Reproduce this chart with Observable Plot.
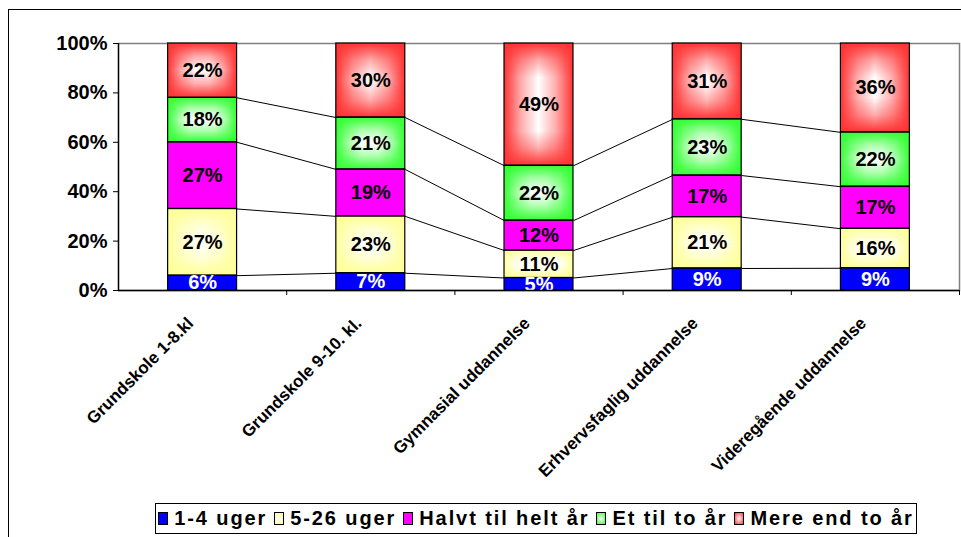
<!DOCTYPE html>
<html>
<head>
<meta charset="utf-8">
<script src="https://cdn.jsdelivr.net/npm/d3@7"></script>
<script src="https://cdn.jsdelivr.net/npm/@observablehq/plot@0.6"></script>
<style>
  html, body { margin: 0; padding: 0; background: #fff; overflow: hidden; width: 961px; height: 537px; }
  body { position: relative; font-family: "Liberation Sans", Arial, sans-serif; }
  #frame { position: absolute; left: 8px; top: 9px; width: 1200px; height: 800px; border: 1px solid #000; box-sizing: border-box; }
  #chart { position: absolute; left: 0; top: 0; }
  #defs { position: absolute; width: 0; height: 0; }
  #legend { position: absolute; left: 155px; top: 503px; width: 762px; height: 31px; border: 1px solid #000; box-sizing: border-box;
    display: flex; align-items: center; justify-content: center; background: #fff;
    font-weight: bold; font-size: 20px; letter-spacing: 1.9px; color: #000; white-space: nowrap; }
  .item { display: flex; align-items: center; margin: 0 7px 0 0; }
  .item:last-child { margin-right: 0; }
  .sw { width: 8px; height: 11px; border: 1px solid #000; margin-right: 6px; }
</style>
</head>
<body>
<div id="frame"></div>
<svg id="defs"><defs></defs></svg>
<div id="chart"></div>
<div id="legend"></div>
<script>
// ---- data ----
const categories = ["Grundskole 1-8.kl", "Grundskole 9-10. kl.", "Gymnasial uddannelse", "Erhvervsfaglig uddannelse", "Videregående uddannelse"];
const seriesNames = ["1-4 uger", "5-26 uger", "Halvt til helt år", "Et til to år", "Mere end to år"];
const uger1_4 = [6, 7, 5, 9, 9];
const uger5_26 = [27, 23, 11, 21, 16];
const halvtTilHelt = [27, 19, 12, 17, 17];
const etTilTo = [18, 21, 22, 23, 22];
const mereEndTo = [22, 30, 49, 31, 36];
const yTicks = [0, 20, 40, 60, 80, 100];

// ---- styles ----
const seriesValues = [uger1_4, uger5_26, halvtTilHelt, etTilTo, mereEndTo];
const seriesColor = ["#0000FF", "#FFFF99", "#FF00FF", "#33FF33", "#FF3333"];
const seriesGradient = [false, true, false, true, true];
const cssFill = ["#0000FF", "radial-gradient(#fff, #FFFF99)", "#FF00FF", "radial-gradient(#fff, #33FF33)", "radial-gradient(#fff, #FF3333)"];
const barWidth = 0.41;
const W = 961, H = 495, mL = 118, mR = 2, mT = 43, mB = 205;
const pxW = (W - mL - mR) / categories.length * barWidth;
const pxPerPct = (H - mT - mB) / 100;

// ---- build stacked rows (100% stacked) ----
const rows = [];
const cum = categories.map(() => []);
categories.forEach((cat, i) => {
  const total = d3.sum(seriesValues, s => s[i]);
  let acc = 0;
  seriesValues.forEach((s, k) => {
    const y1 = acc / total * 100;
    acc += s[i];
    const y2 = acc / total * 100;
    cum[i][k] = y2;
    rows.push({i, cat, series: seriesNames[k], k, value: s[i], y1, y2,
      x1: i + 0.5 - barWidth / 2, x2: i + 0.5 + barWidth / 2, xc: i + 0.5,
      grad: seriesGradient[k], id: `g${i}_${k}`});
  });
});
const links = [];
for (let k = 0; k < seriesNames.length - 1; k++) {
  for (let i = 0; i < categories.length - 1; i++) {
    links.push({x1: i + 0.5 + barWidth / 2, x2: i + 1.5 - barWidth / 2, y1: cum[i][k], y2: cum[i + 1][k]});
  }
}
const boundaries = categories.map((c, i) => i + 1);
const centers = categories.map((c, i) => i + 0.5);

// ---- box ("from center") gradients: horizontal base + vertical overlay ----
const defs = d3.select("#defs defs");
rows.filter(d => d.grad).forEach(d => {
  const col = seriesColor[d.k];
  const mid = d3.interpolateRgb(col, "#fff")(0.6);
  const w = pxW, h = (d.y2 - d.y1) * pxPerPct;
  const s = Math.min(w, h) / 2;
  const fx = s / w, fy = s / h;
  const hg = defs.append("linearGradient").attr("id", "h" + d.id).attr("x1", 0).attr("x2", 1).attr("y1", 0).attr("y2", 0);
  [[0, col], [fx * 0.5, mid], [fx, "#fff"], [1 - fx, "#fff"], [1 - fx * 0.5, mid], [1, col]].forEach(([o, c]) =>
    hg.append("stop").attr("offset", o).attr("stop-color", c));
  const vg = defs.append("linearGradient").attr("id", "v" + d.id).attr("x1", 0).attr("x2", 0).attr("y1", 0).attr("y2", 1);
  [[0, 1], [fy * 0.5, 0.4], [fy, 0], [1 - fy, 0], [1 - fy * 0.5, 0.4], [1, 1]].forEach(([o, a]) =>
    vg.append("stop").attr("offset", o).attr("stop-color", col).attr("stop-opacity", a));
});

const plot = Plot.plot({
  width: W,
  height: H,
  marginLeft: mL,
  marginRight: mR,
  marginTop: mT,
  marginBottom: mB,
  style: {fontFamily: "'Liberation Sans', Arial, sans-serif", background: "transparent", overflow: "visible"},
  x: {domain: [0, categories.length], axis: null},
  y: {domain: [0, 100], axis: null},
  marks: [
    Plot.frame({stroke: "#808080", strokeWidth: 1.5}),
    Plot.link(links, {x1: "x1", x2: "x2", y1: "y1", y2: "y2", stroke: "#000", strokeWidth: 1}),
    Plot.rect(rows, {x1: "x1", x2: "x2", y1: "y1", y2: "y2",
      fill: {value: d => d.grad ? `url(#h${d.id})` : seriesColor[d.k], scale: null}}),
    Plot.rect(rows.filter(d => d.grad), {x1: "x1", x2: "x2", y1: "y1", y2: "y2",
      fill: {value: d => `url(#v${d.id})`, scale: null}}),
    Plot.rect(rows, {x1: "x1", x2: "x2", y1: "y1", y2: "y2", fill: "none", stroke: "#000", strokeWidth: 1.2}),
    Plot.text(rows.filter(d => d.k > 0), {x: "xc", y: d => (d.y1 + d.y2) / 2, text: d => d.value + "%",
      fill: "#000", fontSize: 20, fontWeight: "bold", letterSpacing: 1.2}),
    Plot.text(rows.filter(d => d.k === 0), {x: "xc", y: d => (d.y1 + d.y2) / 2, text: d => d.value + "%",
      fill: "#fff", fontSize: 20, fontWeight: "bold", letterSpacing: 1.2, clip: true}),
    Plot.ruleX([0], {y1: 0, y2: 100, stroke: "#000", strokeWidth: 1.3}),
    Plot.ruleY([0], {stroke: "#000", strokeWidth: 1.3}),
    Plot.axisY(yTicks, {tickFormat: d => d + "%", tickSize: 5, tickPadding: 6, fontSize: 20, fontWeight: "bold",
      letterSpacing: 1.8, stroke: "#000", color: "#000"}),
    Plot.axisX(boundaries, {tickFormat: () => "", tickSize: 5, stroke: "#000"}),
    Plot.axisX(centers, {tickFormat: d => categories[Math.floor(d)], tickSize: 0, tickPadding: 30, dx: -12,
      tickRotate: -45, fontSize: 17, fontWeight: "bold", letterSpacing: 0.2, color: "#000"})
  ]
});
document.getElementById("chart").appendChild(plot);

// legend
const legend = d3.select("#legend");
seriesNames.forEach((name, k) => {
  const it = legend.append("div").attr("class", "item");
  it.append("div").attr("class", "sw").style("background", cssFill[k]);
  it.append("span").text(name);
});
</script>
</body>
</html>
